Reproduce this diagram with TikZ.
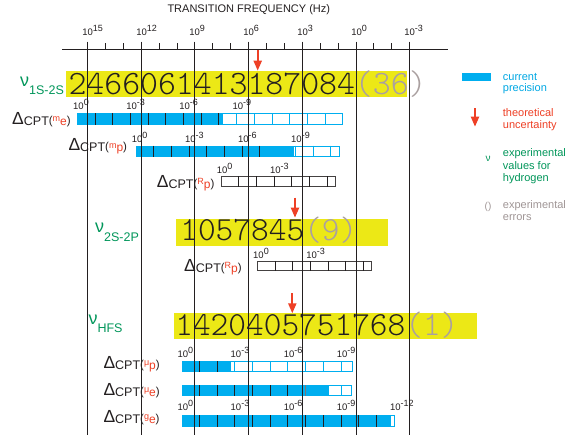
\documentclass[tikz,border=0pt]{standalone}
\usepackage{fontspec}
\setmainfont{Liberation Sans}
\newfontfamily\monof{lmmonolt10-regular.otf}
\usetikzlibrary{arrows.meta}
\definecolor{cyanb}{RGB}{0,174,239}
\definecolor{cyant}{RGB}{0,168,228}
\definecolor{yel}{RGB}{236,232,22}
\definecolor{redc}{RGB}{238,64,38}
\definecolor{grn}{RGB}{0,150,90}
\definecolor{gry}{RGB}{170,160,160}
\definecolor{lgry}{RGB}{160,150,150}
\definecolor{ink}{RGB}{35,31,32}
\newcommand\fs[1]{\fontsize{#1}{#1}\selectfont}
\newcommand\nodepth[1]{\raisebox{0pt}[\height][0pt]{#1}}
\newcommand\tenpow[1]{\fs{9.5}10\raisebox{4pt}{\fs{9}#1}}
\newcommand\nulab[1]{{\fs{18}ν}\raisebox{-8.7pt}{\fs{12.5}#1}}
\newcommand\dlab[2]{{\fs{17.5}Δ}\raisebox{-1.2pt}{\fs{12.5}CPT}{\fs{11.5}(}\raisebox{2.6pt}{\color{redc}\fs{9}#1}\raisebox{-1pt}{\color{redc}\fs{12}#2}{\fs{11.5})}}
\tikzset{
  lbl/.style={anchor=base west, inner sep=0pt, text=ink},
  vline/.style={draw=ink, line width=1.15pt},
  tick/.style={draw=ink, line width=0.9pt},
  digits/.style={anchor=base west, inner sep=0pt, text=ink},
  redarrow/.style={draw=redc, line width=2pt, -{Triangle[width=8pt,length=10pt]}},
  divk/.style={draw=ink, line width=0.9pt},
  divb/.style={draw=cyanb, line width=0.9pt},
  openb/.style={draw=cyanb, line width=0.9pt, fill=white},
  openk/.style={draw=ink!85, line width=0.9pt, fill=white},
  leg/.style={anchor=base west, inner sep=0pt, font=\fs{11}}
}
\begin{document}
\begin{tikzpicture}[x=1pt,y=-1pt]
\useasboundingbox[fill=white] (0,0) rectangle (565,439);
% title
\node[anchor=base, inner sep=0pt, text=ink, font=\fs{11}] (title) at (248.8,12.3) {TRANSITION FREQUENCY (Hz)};
% axis
\draw[tick] (62,49.5) -- (447.7,49.5);
\foreach \j in {0,...,18} \draw[tick] ({87.6+\j*17.89},43) -- ++(0,6.5);
\foreach \x/\e in {87.5/15,141.5/12,194.5/9,248.5/6,302.5/3,356.5/0,409.5/-3}
  \node[lbl] (ax\e) at ({\x-5.3},35) {\tenpow{\e}};
% yellow boxes
\fill[yel] (65.7,70.7) rectangle (406.7,96.7);
\fill[yel] (175.7,219.3) rectangle (388.3,245.7);
\fill[yel] (174,313.3) rectangle (476.7,339.3);
% digits
\node[digits, font=\monof\fs{34.1}] (n1) at (68.35,94.3) {\nodepth{2466061413187084{\color{gry}(36)}}};
\node[digits, font=\monof\fs{33.7}] (n2) at (180.15,240) {\nodepth{1057845{\color{gry}(9)}}};
\node[digits, font=\monof\fs{33.7}] (n3) at (175.15,335.7) {\nodepth{1420405751768{\color{gry}(1)}}};
% nu labels
\node[lbl, text=grn] (nu1) at (20,86) {\nulab{1S-2S}};
\node[lbl, text=grn] (nu2) at (95,232.3) {\nulab{2S-2P}};
\node[lbl, text=grn] (nu3) at (88.3,324) {\nulab{HFS}};
% Delta labels
\node[lbl] (d1) at (12,124) {\dlab{m}{e}};
\node[lbl] (d2) at (68.3,150.7) {\dlab{m}{p}};
\node[lbl] (d3) at (156.7,187.3) {\dlab{R}{p}};
\node[lbl] (d4) at (184,271) {\dlab{R}{p}};
\node[lbl] (d5) at (103.3,368) {\dlab{μ}{p}};
\node[lbl] (d6) at (103.3,395) {\dlab{μ}{e}};
\node[lbl] (d7) at (103.3,422) {\dlab{g}{e}};
% bar 1 m_e
\fill[cyanb] (77.3,113) rectangle (222.7,125);
\draw[openb] (222.7,113.45) rectangle (342.8,124.55);
\foreach \k in {1,...,8} \draw[divk] ({77.3+\k*17.7},113) -- ++(0,12);
\foreach \k in {9,...,14} \draw[divb] ({77.3+\k*17.7},113) -- ++(0,12);
\foreach \j/\e in {0/0,1/-3,2/-6,3/-9} \node[lbl] (l1\j) at ({77.3-4.3+\j*53.1},109.5) {\tenpow{\e}};
% bar 2 m_p
\fill[cyanb] (136,145.7) rectangle (293.3,156.7);
\draw[openb] (293.3,146.15) rectangle (339.4,156.25);
\foreach \k in {1,...,7} \draw[divk] ({136+\k*17.7},145.7) -- ++(0,11);
\foreach \k in {9,...,11} \draw[divb] ({136+\k*17.7},145.7) -- ++(0,11);
\foreach \j/\e in {0/0,1/-3,2/-6,3/-9} \node[lbl] (l2\j) at ({136-4.3+\j*53.1},142.3) {\tenpow{\e}};
% bar 3 R_p
\draw[openk] (221,176.45) rectangle (335,186.25);
\foreach \k in {1,...,6} \draw[divk] ({221+\k*17.7},176) -- ++(0,10.7);
\foreach \j/\e in {0/0,1/-3} \node[lbl] (l3\j) at ({221-4.3+\j*53.1},173) {\tenpow{\e}};
% bar 4 R_p
\draw[openk] (257.3,261.45) rectangle (371,270.55);
\foreach \k in {1,...,6} \draw[divk] ({257.3+\k*17.7},261) -- ++(0,10);
\foreach \j/\e in {0/0,1/-3} \node[lbl] (l4\j) at ({257.3-4.3+\j*53.1},258.3) {\tenpow{\e}};
% bar 5 mu_p
\fill[cyanb] (181.7,361) rectangle (230.7,372.3);
\draw[openb] (230.7,361.45) rectangle (352.3,371.85);
\foreach \k in {1,2} \draw[divk] ({181.7+\k*17.7},361) -- ++(0,11.3);
\foreach \k in {3,...,9} \draw[divb] ({181.7+\k*17.7},361) -- ++(0,11.3);
\foreach \j/\e in {0/0,1/-3,2/-6,3/-9} \node[lbl] (l5\j) at ({181.7-4.3+\j*53.1},357.5) {\tenpow{\e}};
% bar 6 mu_e
\fill[cyanb] (181.7,385) rectangle (328.3,396);
\draw[openb] (328.3,385.45) rectangle (351,395.55);
\foreach \k in {1,...,6} \draw[divk] ({181.7+\k*17.7},385) -- ++(0,11);
\draw[divk, draw=ink!60] ({181.7+7*17.7},385) -- ++(0,11);
\draw[divb] ({181.7+9*17.7},385) -- ++(0,11);
% bar 7 g_e
\fill[cyanb] (181.7,415) rectangle (390,426.7);
\draw[openb] (390,415.45) rectangle (394.3,426.25);
\foreach \k in {1,...,11} \draw[divk] ({181.7+\k*17.7},415) -- ++(0,11.7);
\foreach \j/\e in {0/0,1/-3,2/-6,3/-9,4/-12} \node[lbl] (l7\j) at ({181.7-4.3+\j*53.1},410.5) {\tenpow{\e}};
% vertical lines
\foreach \x in {87.5,141.5,194.5,248.5,302.5,356.5,409.5} \draw[vline] (\x,41.7) -- (\x,435);
% red arrows
\coordinate (a1s) at (257.7,50); \coordinate (a1e) at (257.7,70.7);
\coordinate (a2s) at (295,197.7); \coordinate (a2e) at (295,217.7);
\coordinate (a3s) at (292.3,293.3); \coordinate (a3e) at (292.3,313.3);
\draw[redarrow] (a1s) -- (a1e);
\draw[redarrow] (a2s) -- (a2e);
\draw[redarrow] (a3s) -- (a3e);
% legend
\fill[cyanb] (461.7,73.3) rectangle (490.7,80.7);
\node[leg, text=cyant] (lg1a) at (502.7,80) {current};
\node[leg, text=cyant] (lg1b) at (502.7,91.7) {precision};
\coordinate (las) at (475,108.3); \coordinate (lae) at (475,126.7);
\draw[redarrow] (las) -- (lae);
\node[leg, text=redc] (lg2a) at (502.7,116.5) {theoretical};
\node[leg, text=redc] (lg2b) at (502.7,128.3) {uncertainty};
\node[anchor=base, inner sep=0pt, text=grn, font=\fs{10}] (lgnu) at (488,161.5) {ν};
\node[leg, text=grn] (lg3a) at (502.7,156.8) {experimental};
\node[leg, text=grn] (lg3b) at (502.7,169.3) {values for};
\node[leg, text=grn] (lg3c) at (502.7,181.3) {hydrogen};
\node[anchor=base, inner sep=0pt, text=lgry, font=\fs{10}] (lgpar) at (488,209.5) {()};
\node[leg, text=lgry] (lg4a) at (502.7,208.3) {experimental};
\node[leg, text=lgry] (lg4b) at (502.7,220.3) {errors};
\end{tikzpicture}
\end{document}
